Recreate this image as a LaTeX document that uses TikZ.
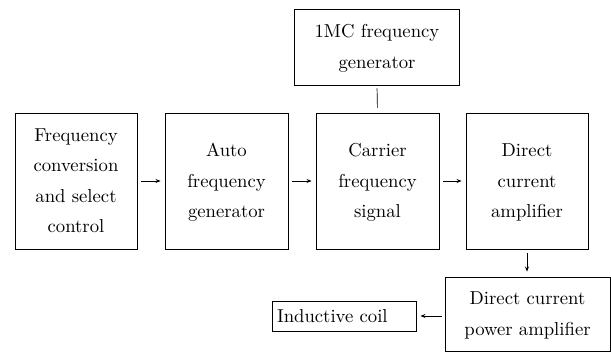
\documentclass[tikz,border=0pt]{standalone}
\usetikzlibrary{arrows.meta}
\newcommand\btx[1]{\scalebox{1.87}{\renewcommand\arraystretch{1.34}\begin{tabular}{@{}c@{}}#1\end{tabular}}}
\begin{document}
\begin{tikzpicture}[x=1pt,y=-1pt,
  blk/.style={draw,line width=0.9pt,align=center,inner sep=0pt},
  arr/.style={line width=0.7pt,-{Stealth[length=5pt,width=4pt]}}]
\useasboundingbox (0,0) rectangle (611,352);
\node[blk,minimum width=122,minimum height=136] (fc) at (76,181) {\btx{Frequency\\conversion\\and select\\control}};
\node[blk,minimum width=123,minimum height=136] (af) at (226.5,181) {\btx{Auto\\frequency\\generator}};
\node[blk,minimum width=123,minimum height=136] (cf) at (377.5,181) {\btx{Carrier\\frequency\\signal}};
\node[blk,minimum width=122,minimum height=136] (dc) at (527,181) {\btx{Direct\\current\\amplifier}};
\node[blk,minimum width=164.5,minimum height=76] (mc) at (377,47) {\btx{1MC frequency\\generator}};
\node[blk,minimum width=165,minimum height=74] (pa) at (527.5,314) {\btx{Direct current\\power amplifier}};
\node[blk,minimum width=144,minimum height=28,align=left,text width=144,inner xsep=0pt] (ic) at (344,316) {\hspace*{5pt}\btx{Inductive coil}};
\draw[arr,shorten <=4pt,shorten >=4pt] (fc.east) -- (af.west);
\draw[arr,shorten <=4pt,shorten >=4pt] (af.east) -- (cf.west);
\draw[arr,shorten <=4pt,shorten >=4pt] (cf.east) -- (dc.west);
\draw[line width=0.7pt,shorten <=3pt,shorten >=5pt] (mc.south) -- (cf.north);
\draw[arr,shorten <=4pt,shorten >=5pt] (dc.south) -- (dc.south |- pa.north);
\draw[arr,shorten <=3pt,shorten >=4pt] (pa.west |- ic.east) -- (ic.east);
\end{tikzpicture}
\end{document}
